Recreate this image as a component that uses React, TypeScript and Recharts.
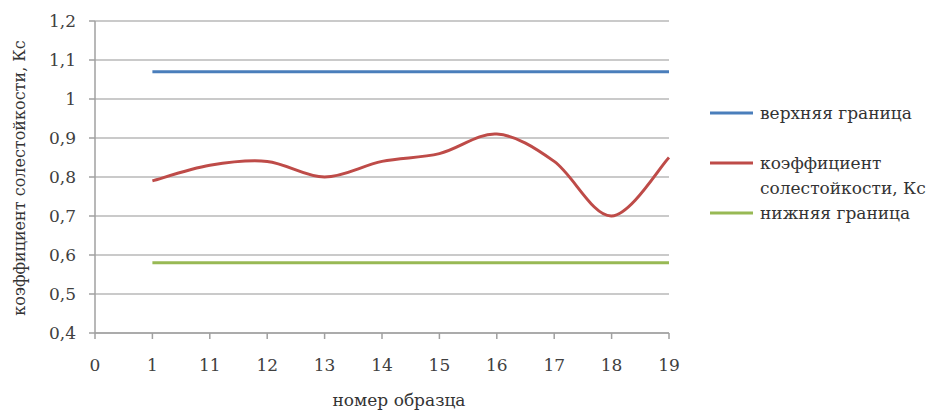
import React from "react";
import { LineChart, Line, XAxis, YAxis, CartesianGrid, Legend, Label } from "recharts";

const categories = ["0", "1", "11", "12", "13", "14", "15", "16", "17", "18", "19"];
const upperBound = [null, 1.07, 1.07, 1.07, 1.07, 1.07, 1.07, 1.07, 1.07, 1.07, 1.07];
const coefficient = [null, 0.79, 0.83, 0.84, 0.80, 0.84, 0.86, 0.91, 0.84, 0.70, 0.85];
const lowerBound = [null, 0.58, 0.58, 0.58, 0.58, 0.58, 0.58, 0.58, 0.58, 0.58, 0.58];
const yTicks = [0.4, 0.5, 0.6, 0.7, 0.8, 0.9, 1.0, 1.1, 1.2];

const seriesNames = {
  upper: "верхняя граница",
  coef: "коэффициент солестойкости, Кс",
  lower: "нижняя граница",
};
const COLORS = { upper: "#4a7ebb", coef: "#be4b48", lower: "#98b954" };

const data = categories.map((c, i) => ({
  x: c,
  upper: upperBound[i],
  coef: coefficient[i],
  lower: lowerBound[i],
}));

// Excel-like smoothing (Catmull-Rom / cardinal, tension 0)
function excelCurve(context: any) {
  let pts: [number, number][] = [];
  const flush = () => {
    if (!pts.length) return;
    context.moveTo(pts[0][0], pts[0][1]);
    if (pts.length === 1) return;
    for (let i = 0; i < pts.length - 1; i++) {
      const p0 = pts[i - 1] || pts[i];
      const p1 = pts[i];
      const p2 = pts[i + 1];
      const p3 = pts[i + 2] || pts[i + 1];
      const c1x = p1[0] + (p2[0] - p0[0]) / 6;
      const c1y = p1[1] + (p2[1] - p0[1]) / 6;
      const c2x = p2[0] - (p3[0] - p1[0]) / 6;
      const c2y = p2[1] - (p3[1] - p1[1]) / 6;
      context.bezierCurveTo(c1x, c1y, c2x, c2y, p2[0], p2[1]);
    }
  };
  return {
    areaStart() {},
    areaEnd() {},
    lineStart() {
      pts = [];
    },
    lineEnd() {
      flush();
      pts = [];
    },
    point(x: number, y: number) {
      pts.push([+x, +y]);
    },
  };
}

const FONT = "'DejaVu Serif', 'Liberation Serif', serif";
const TICK_COLOR = "#404040";
const FS = 17;

function LegendContent() {
  const items = [
    { key: "upper", lines: ["верхняя граница"] },
    { key: "coef", lines: ["коэффициент", "солестойкости, Кс"] },
    { key: "lower", lines: ["нижняя граница"] },
  ];
  const rowTops = [0, 50, 100];
  return (
    <div style={{ position: "relative", width: 227, height: 140, fontFamily: FONT, fontSize: FS, color: "#333" }}>
      {items.map((it, idx) => (
        <div key={it.key} style={{ position: "absolute", left: 0, top: rowTops[idx], display: "flex", alignItems: "flex-start" }}>
          <svg width={44} height={24} style={{ flex: "none" }}>
            <line x1={0} x2={43} y1={12} y2={12} stroke={(COLORS as any)[it.key]} strokeWidth={3} />
          </svg>
          <div style={{ marginLeft: 6, lineHeight: "25px", whiteSpace: "nowrap" }}>
            {it.lines.map((l) => (
              <div key={l}>{l}</div>
            ))}
          </div>
        </div>
      ))}
    </div>
  );
}

export default function App() {
  return (
    <div style={{ width: 929, height: 404, position: "relative", fontFamily: FONT }}>
      <LineChart
        width={929}
        height={404}
        data={data}
        margin={{ top: 13, right: 41, left: 0, bottom: 49 }}
        style={{ fontFamily: FONT }}
      >
        <CartesianGrid vertical={false} stroke="#b8b8b8" strokeWidth={1.5} />
        <XAxis
          dataKey="x"
          interval={0}
          axisLine={{ stroke: "#a0a0a0", strokeWidth: 1.5 }}
          tickLine={{ stroke: "#a0a0a0", strokeWidth: 1.5 }}
          tickSize={6}
          tickMargin={20}
          height={30}
          tick={{ fontFamily: FONT, fontSize: FS, fill: TICK_COLOR }}
        >
          <Label
            content={() => (
              <text x={391} y={398} textAnchor="middle" fontFamily={FONT} fontSize={FS} fill="#333">
                номер образца
              </text>
            )}
          />
        </XAxis>
        <YAxis
          width={87}
          domain={[0.4, 1.2]}
          ticks={yTicks}
          interval={0}
          axisLine={{ stroke: "#a0a0a0", strokeWidth: 1.5 }}
          tickLine={{ stroke: "#a0a0a0", strokeWidth: 1.5 }}
          tickSize={6}
          tickMargin={13}
          tickFormatter={(v: number) => String(Math.round(v * 10) / 10).replace(".", ",")}
          tick={{ fontFamily: FONT, fontSize: FS, fill: TICK_COLOR }}
        >
          <Label
            content={() => (
              <text
                x={12}
                y={170}
                textAnchor="middle"
                dominantBaseline="middle"
                transform="rotate(-90 12 170)"
                fontFamily={FONT}
                fontSize={16}
                fill="#333"
              >
                коэффициент солестойкости, Кс
              </text>
            )}
          />
        </YAxis>
        <Legend
          layout="vertical"
          align="right"
          verticalAlign="top"
          wrapperStyle={{ position: "absolute", left: 702, top: 93, width: 227 }}
          content={() => <LegendContent />}
        />
        <Line
          dataKey="upper"
          name={seriesNames.upper}
          stroke={COLORS.upper}
          strokeWidth={3}
          dot={false}
          activeDot={false}
          type="linear"
          isAnimationActive={false}
        />
        <Line
          dataKey="coef"
          name={seriesNames.coef}
          stroke={COLORS.coef}
          strokeWidth={3}
          dot={false}
          activeDot={false}
          type={excelCurve as any}
          isAnimationActive={false}
        />
        <Line
          dataKey="lower"
          name={seriesNames.lower}
          stroke={COLORS.lower}
          strokeWidth={3}
          dot={false}
          activeDot={false}
          type="linear"
          isAnimationActive={false}
        />
      </LineChart>
    </div>
  );
}
